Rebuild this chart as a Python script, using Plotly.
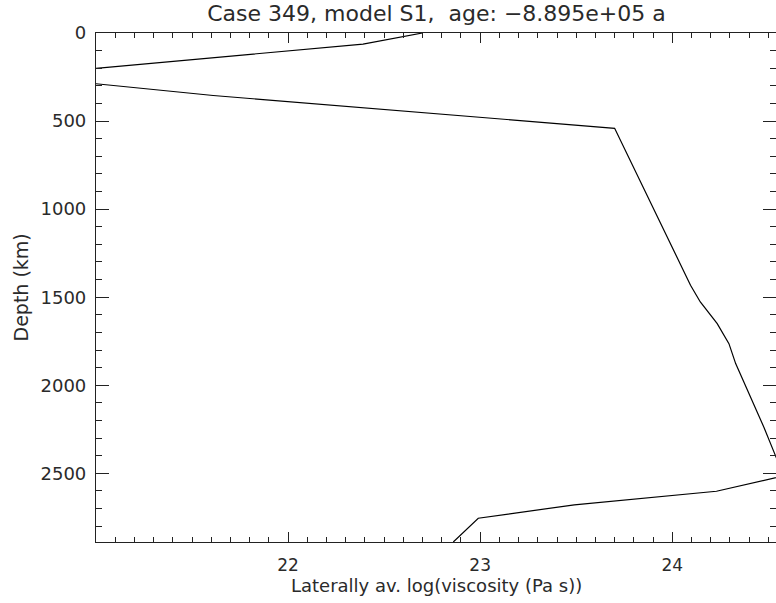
import plotly.graph_objects as go

# Laterally averaged log10 viscosity profile
viscosity = [22.70, 22.39, 20.58, 21.00, 21.61, 23.70, 24.095, 24.146, 24.234, 24.295,
             24.33, 24.477, 24.495, 24.58, 24.23, 23.49, 22.99, 22.86]
depth_km = [0, 63, 242, 288, 355, 541, 1432, 1527, 1650, 1764,
            1877, 2238, 2285, 2515, 2602, 2679, 2755, 2890]

x_range = [21.0, 24.54]
y_range = [2890, 0]
x_ticks = [22, 23, 24]
y_ticks = [0, 500, 1000, 1500, 2000, 2500]

title_text = "Case 349, model S1,  age: \u22128.895e+05 a"
x_title = "Laterally av. log(viscosity (Pa s))"
y_title = "Depth (km)"

font_family = "DejaVu Sans"
axis_color = "#222222"
text_color = "#2a2a2a"

fig = go.Figure()
fig.add_trace(go.Scatter(
    x=viscosity, y=depth_km, mode="lines",
    line=dict(color="black", width=1.2),
    showlegend=False, hoverinfo="skip", cliponaxis=True,
))
# invisible trace to activate mirrored axes
fig.add_trace(go.Scatter(x=[None], y=[None], xaxis="x2", yaxis="y2",
                         showlegend=False, hoverinfo="skip"))

common = dict(showgrid=False, zeroline=False, linecolor=axis_color, linewidth=1.2,
              ticks="inside", tickcolor=axis_color, tickwidth=1.2, showline=True,
              automargin=False)

H = 603
PH = H - 94
fig.update_layout(
    width=776, height=H,
    margin=dict(l=96, r=0, t=33, b=61),
    plot_bgcolor="white", paper_bgcolor="white",
    font=dict(family=font_family, size=18, color=text_color),
    title=dict(text=title_text, x=0.5625, xanchor="center", y=1 - 13 / H, yanchor="middle",
               font=dict(size=22, color=text_color)),
    xaxis=dict(range=x_range, tickvals=x_ticks, ticklen=10,
               minor=dict(dtick=0.1, tick0=21.0, ticklen=5, ticks="inside",
                          tickcolor=axis_color, tickwidth=1),
               tickfont=dict(size=17), ticklabelstandoff=7, **common),
    yaxis=dict(range=y_range, tickvals=y_ticks, ticklen=13,
               minor=dict(dtick=100, tick0=0, ticklen=6, ticks="inside",
                          tickcolor=axis_color, tickwidth=1),
               tickfont=dict(size=18), ticklabelstandoff=5, **common),
    xaxis2=dict(range=x_range, overlaying="x", side="top", tickvals=x_ticks,
                ticklen=10, showticklabels=False,
                minor=dict(dtick=0.1, tick0=21.0, ticklen=5, ticks="inside",
                           tickcolor=axis_color, tickwidth=1), **common),
    yaxis2=dict(range=y_range, overlaying="y", side="right", tickvals=y_ticks,
                ticklen=13, showticklabels=False,
                minor=dict(dtick=100, tick0=0, ticklen=6, ticks="inside",
                           tickcolor=axis_color, tickwidth=1), **common),
    annotations=[
        dict(text=x_title, xref="paper", yref="paper", x=0.5, y=-(585 - 542) / PH,
             xanchor="center", yanchor="middle", showarrow=False,
             font=dict(size=18, color=text_color)),
        dict(text=y_title, xref="paper", yref="paper", x=(20 - 96) / 680, y=0.5,
             xanchor="center", yanchor="middle", textangle=-90, showarrow=False,
             font=dict(size=19, color=text_color)),
    ],
)

fig.write_html("out.html")
